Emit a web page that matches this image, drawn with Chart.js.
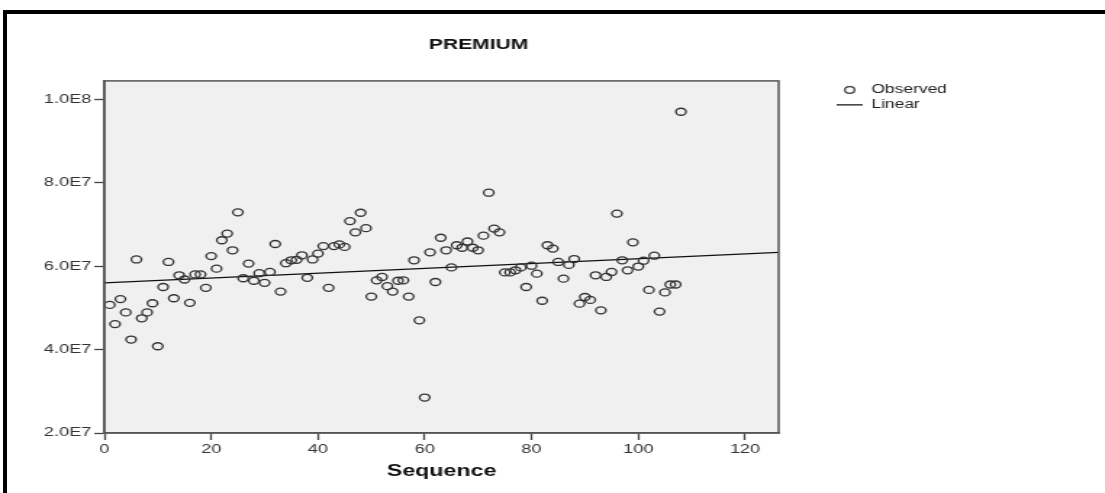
<!DOCTYPE html>
<html>
<head>
<meta charset="utf-8">
<script src="https://cdn.jsdelivr.net/npm/chart.js@4/dist/chart.umd.min.js"></script>
<style>
  html, body { margin: 0; padding: 0; background: #fff; overflow: hidden; }
  #wrap { position: relative; width: 1105px; height: 493px; }
  #myChart { position: absolute; left: 0; top: 0; transform: scaleX(1.45); transform-origin: 0 0; }
  #frame { position: absolute; left: 3px; top: 10px; width: 1120px; height: 500px;
           border-left: 4px solid #000; border-top: 4px solid #000; pointer-events: none; }
</style>
</head>
<body>
<div id="wrap">
  <canvas id="myChart" width="762" height="493"></canvas>
  <div id="frame"></div>
</div>
<script>
// donnees (PREMIUM en millions)
const sequence = Array.from({ length: 108 }, (_, i) => i + 1);
const premiumMillions = [
  50.7, 46.1, 52.1, 48.9, 42.4, 61.6, 47.5, 48.9, 51.1, 40.8,
  55.0, 61.0, 52.3, 57.8, 56.8, 51.2, 58.0, 58.0, 54.8, 62.4,
  59.4, 66.2, 67.8, 63.8, 72.9, 57.1, 60.6, 56.5, 58.3, 56.0,
  58.6, 65.3, 53.9, 60.7, 61.4, 61.5, 62.6, 57.2, 61.6, 63.0,
  64.8, 54.8, 64.8, 65.2, 64.6, 70.8, 68.1, 72.8, 69.1, 52.7,
  56.6, 57.4, 55.2, 53.9, 56.5, 56.6, 52.7, 61.4, 47.0, 28.5,
  63.3, 56.2, 66.8, 63.8, 59.7, 65.0, 64.4, 65.9, 64.4, 63.8,
  67.3, 77.6, 69.0, 68.1, 58.5, 58.5, 59.0, 59.7, 55.0, 60.1,
  58.2, 51.7, 65.0, 64.2, 61.0, 57.0, 60.3, 61.7, 51.0, 52.6,
  51.9, 57.8, 49.4, 57.4, 58.6, 72.6, 61.4, 59.0, 65.7, 59.9,
  61.3, 54.3, 62.5, 49.1, 53.7, 55.6, 55.6, 97.0
];
const xTicks = [0, 20, 40, 60, 80, 100, 120];
const yTicks = [2e7, 4e7, 6e7, 8e7, 1e8];
const xMax = 126.3;
const yMin = 2e7;
const yMax = 1.044e8;

const observed = sequence.map((s, i) => ({ x: s, y: premiumMillions[i] * 1e6 }));

// droite de regression (moindres carres)
function linearFit(pts) {
  const n = pts.length;
  let sx = 0, sy = 0, sxx = 0, sxy = 0;
  pts.forEach(p => { sx += p.x; sy += p.y; sxx += p.x * p.x; sxy += p.x * p.y; });
  const b = (n * sxy - sx * sy) / (n * sxx - sx * sx);
  const a = (sy - b * sx) / n;
  return { a, b };
}
const fit = linearFit(observed);
const linear = [0, xMax].map(x => ({ x: x, y: fit.a + fit.b * x }));

// petit cercle pour la legende
const legendCircle = document.createElement('canvas');
legendCircle.width = 10;
legendCircle.height = 10;
(function () {
  const c = legendCircle.getContext('2d');
  c.strokeStyle = '#333';
  c.lineWidth = 1.2;
  c.beginPath();
  c.arc(5, 5, 3.3, 0, Math.PI * 2);
  c.stroke();
})();

// fond gris et cadre de la zone de trace
const plotFrame = {
  id: 'plotFrame',
  beforeDraw(chart) {
    const { ctx, chartArea: a } = chart;
    ctx.save();
    ctx.fillStyle = '#f0f0f0';
    ctx.fillRect(a.left, a.top, a.right - a.left, a.bottom - a.top);
    ctx.restore();
  },
  afterDraw(chart) {
    const { ctx, chartArea: a } = chart;
    ctx.save();
    ctx.strokeStyle = '#555';
    ctx.lineWidth = 1.5;
    ctx.strokeRect(a.left, a.top, a.right - a.left, a.bottom - a.top);
    ctx.restore();
  }
};

Chart.defaults.font.family = 'Arial, "Liberation Sans", sans-serif';
Chart.defaults.color = '#333';

const graph = document.getElementById('myChart');
const myChart = new Chart(graph, {
  type: 'scatter',
  data: {
    datasets: [{
      label: 'Observed',
      data: observed,
      pointStyle: 'circle',
      pointRadius: 3.5,
      pointBorderWidth: 1.3,
      borderColor: '#333',
      backgroundColor: 'rgba(0,0,0,0)',
      pointHoverRadius: 3.5
    }, {
      type: 'line',
      label: 'Linear',
      data: linear,
      borderColor: '#111',
      borderWidth: 1.3,
      pointRadius: 0,
      pointStyle: 'line',
      fill: false
    }]
  },
  options: {
    responsive: false,
    animation: false,
    layout: { padding: { left: 0, right: 102, top: 0, bottom: 0 } },
    plugins: {
      title: {
        display: true,
        text: 'PREMIUM',
        color: '#111',
        font: { size: 14.5, weight: 'bold' },
        padding: { top: 36.5, bottom: 27 }
      },
      legend: {
        position: 'right',
        align: 'start',
        fullSize: false,
        labels: {
          usePointStyle: true,
          pointStyleWidth: 18,
          boxHeight: 7,
          padding: 3,
          color: '#222',
          font: { size: 12 },
          generateLabels(chart) {
            const items = Chart.defaults.plugins.legend.labels.generateLabels(chart);
            items[0].pointStyle = legendCircle;
            return items;
          }
        }
      },
      tooltip: { enabled: false }
    },
    scales: {
      x: {
        type: 'linear',
        position: 'bottom',
        min: 0,
        max: xMax,
        afterBuildTicks(axis) { axis.ticks = xTicks.map(v => ({ value: v })); },
        afterFit(scale) { scale.height = 60; },
        grid: { drawOnChartArea: false, tickLength: 7, tickColor: '#444', tickWidth: 1.3 },
        border: { color: '#555', width: 1.5 },
        ticks: { font: { size: 12.5 }, color: '#333', padding: 2, maxRotation: 0 },
        title: {
          display: true,
          text: 'Sequence',
          color: '#111',
          font: { size: 16, weight: 'bold' },
          padding: { top: 4, bottom: 12 }
        }
      },
      y: {
        type: 'linear',
        min: yMin,
        max: yMax,
        afterBuildTicks(axis) { axis.ticks = yTicks.map(v => ({ value: v })); },
        afterFit(scale) { scale.width = 72; },
        grid: { drawOnChartArea: false, tickLength: 7, tickColor: '#444', tickWidth: 1.3 },
        border: { color: '#555', width: 1.5 },
        ticks: {
          font: { size: 12.5 },
          color: '#333',
          padding: 2,
          callback: v => v.toExponential(1).toUpperCase().replace('+', '')
        }
      },
      gapIn: {
        type: 'linear',
        position: 'right',
        weight: 0,
        grid: { display: false },
        border: { display: false },
        ticks: { display: false },
        afterFit(scale) { scale.width = 37; }
      },
      gapOut: {
        type: 'linear',
        position: 'right',
        weight: 1500,
        grid: { display: false },
        border: { display: false },
        ticks: { display: false },
        afterFit(scale) { scale.width = 3.5; }
      }
    }
  },
  plugins: [plotFrame]
});
</script>
</body>
</html>
